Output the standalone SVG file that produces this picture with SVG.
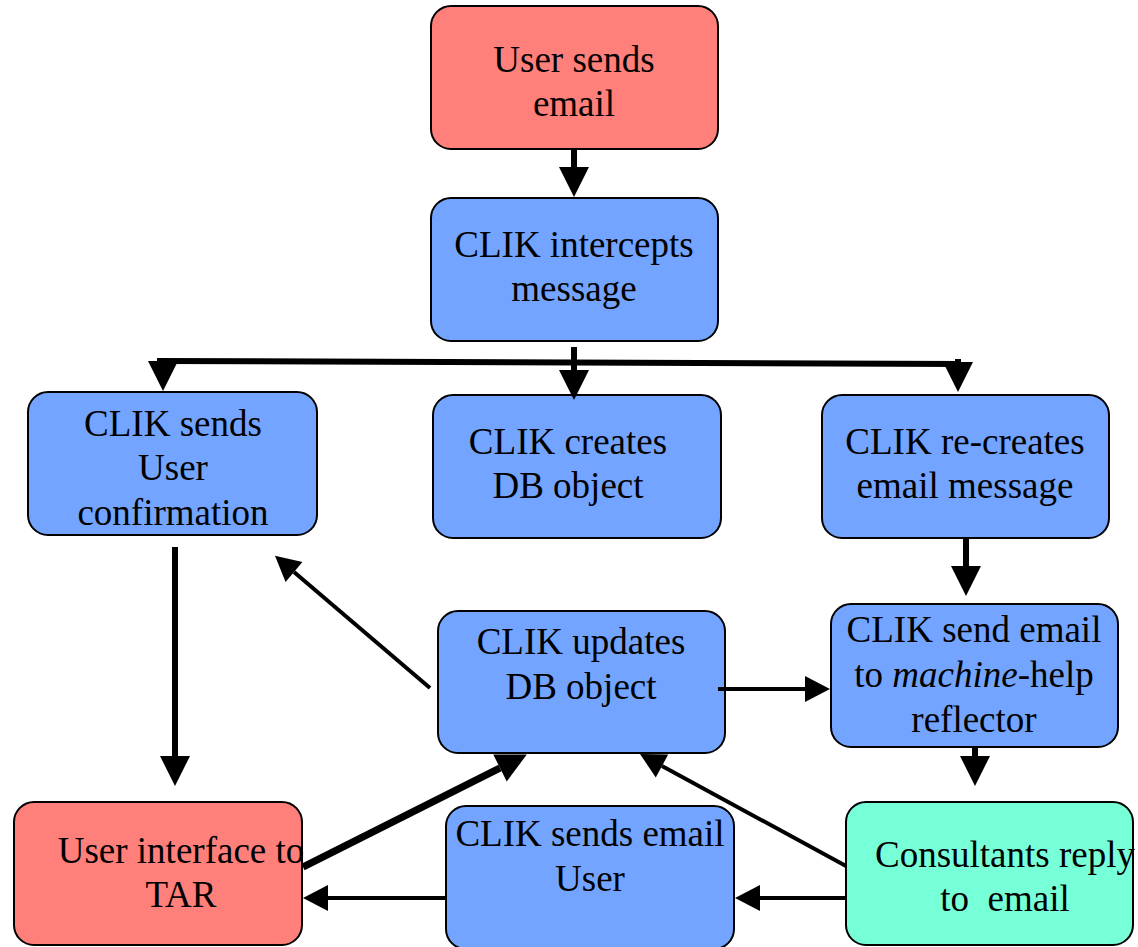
<svg xmlns="http://www.w3.org/2000/svg" width="1138" height="947" viewBox="0 0 1138 947">
<style>
.box{stroke:#000;stroke-width:2}
.red{fill:#ff7f7a}
.blue{fill:#73a4ff}
.green{fill:#77ffd8}
.t{font-family:'Liberation Serif','DejaVu Serif',serif;font-size:37px;fill:#000;text-anchor:middle}
.c line{stroke:#000}
.thick{stroke-width:6}
.thin{stroke-width:4}
</style>
<defs>
<marker id="hb" markerUnits="userSpaceOnUse" markerWidth="32" markerHeight="32" refX="0" refY="15" orient="auto" overflow="visible">
<path d="M0,0 L30,15 L0,30 z" fill="#000"/>
</marker>
<marker id="hs" markerUnits="userSpaceOnUse" markerWidth="28" markerHeight="28" refX="0" refY="13" orient="auto" overflow="visible">
<path d="M0,0 L25,13 L0,26 z" fill="#000"/>
</marker>
</defs>
<g id="n1"><rect class="box red" x="431" y="6" width="287" height="143" rx="20"/><text class="t" font-family="Liberation Serif, serif" x="574" y="72">User sends</text><text class="t" font-family="Liberation Serif, serif" x="574" y="116">email</text></g>
<g id="n2"><rect class="box blue" x="431" y="198" width="287" height="143" rx="20"/><text class="t" font-family="Liberation Serif, serif" x="574" y="257">CLIK intercepts</text><text class="t" font-family="Liberation Serif, serif" x="574" y="301">message</text></g>
<g id="n3"><rect class="box blue" x="28" y="392" width="289" height="143" rx="20"/><text class="t" font-family="Liberation Serif, serif" x="173" y="436">CLIK sends</text><text class="t" font-family="Liberation Serif, serif" x="173" y="480">User</text><text class="t" font-family="Liberation Serif, serif" x="173" y="525">confirmation</text></g>
<g id="n4"><rect class="box blue" x="433" y="395" width="288" height="143" rx="20"/><text class="t" font-family="Liberation Serif, serif" x="568" y="454">CLIK creates</text><text class="t" font-family="Liberation Serif, serif" x="568" y="498">DB object</text></g>
<g id="n5"><rect class="box blue" x="822" y="395" width="287" height="143" rx="20"/><text class="t" font-family="Liberation Serif, serif" x="965" y="454">CLIK re-creates</text><text class="t" font-family="Liberation Serif, serif" x="965" y="498">email message</text></g>
<g id="n6"><rect class="box blue" x="438" y="611" width="287" height="142" rx="20"/><text class="t" font-family="Liberation Serif, serif" x="581" y="654">CLIK updates</text><text class="t" font-family="Liberation Serif, serif" x="581" y="699">DB object</text></g>
<g id="n7"><rect class="box blue" x="831" y="604" width="287" height="143" rx="20"/><text class="t" font-family="Liberation Serif, serif" x="974" y="642">CLIK send email</text><text class="t" font-family="Liberation Serif, serif" x="974" y="687">to <tspan font-style="italic">machine</tspan>-help</text><text class="t" font-family="Liberation Serif, serif" x="974" y="732">reflector</text></g>
<g id="n8"><rect class="box red" x="14" y="802" width="288" height="143" rx="20"/><text class="t" font-family="Liberation Serif, serif" x="181" y="863">User interface to</text><text class="t" font-family="Liberation Serif, serif" x="181" y="907">TAR</text></g>
<g id="n9"><rect class="box blue" x="446" y="806" width="288" height="143" rx="20"/><text class="t" font-family="Liberation Serif, serif" x="590" y="846">CLIK sends email</text><text class="t" font-family="Liberation Serif, serif" x="590" y="891">User</text></g>
<g id="n10"><rect class="box green" x="846" y="802" width="287" height="143" rx="20"/><text class="t" font-family="Liberation Serif, serif" x="1005" y="867">Consultants reply</text><text class="t" font-family="Liberation Serif, serif" x="1005" y="911" style="white-space:pre">to  email</text></g>
<g id="connectors" class="c">
<line class="thick" x1="574" y1="149" x2="574" y2="167" marker-end="url(#hb)"/>
<line class="thick" x1="157" y1="361" x2="960" y2="364"/>
<line class="thick" x1="574" y1="347" x2="574" y2="370" marker-end="url(#hb)"/>
<line class="thick" x1="163" y1="358" x2="163" y2="361" marker-end="url(#hb)"/>
<line class="thick" x1="958" y1="359" x2="958" y2="362" marker-end="url(#hb)"/>
<line class="thick" x1="175" y1="547" x2="175" y2="756" marker-end="url(#hb)"/>
<line class="thick" x1="966" y1="538" x2="966" y2="566" marker-end="url(#hb)"/>
<line class="thick" x1="975" y1="748" x2="975" y2="756" marker-end="url(#hb)"/>
<line class="thin" x1="430" y1="688" x2="294" y2="572" marker-end="url(#hs)"/>
<line class="thin" x1="718" y1="689" x2="805" y2="689" marker-end="url(#hs)"/>
<line class="thin" x1="846" y1="866" x2="662" y2="766" marker-end="url(#hs)"/>
<line class="thin" x1="846" y1="898" x2="760" y2="898" marker-end="url(#hs)"/>
<line class="thin" x1="446" y1="898" x2="328" y2="898" marker-end="url(#hs)"/>
<line stroke-width="7" x1="303" y1="867" x2="500" y2="768" marker-end="url(#hb)"/>
</g>
</svg>
